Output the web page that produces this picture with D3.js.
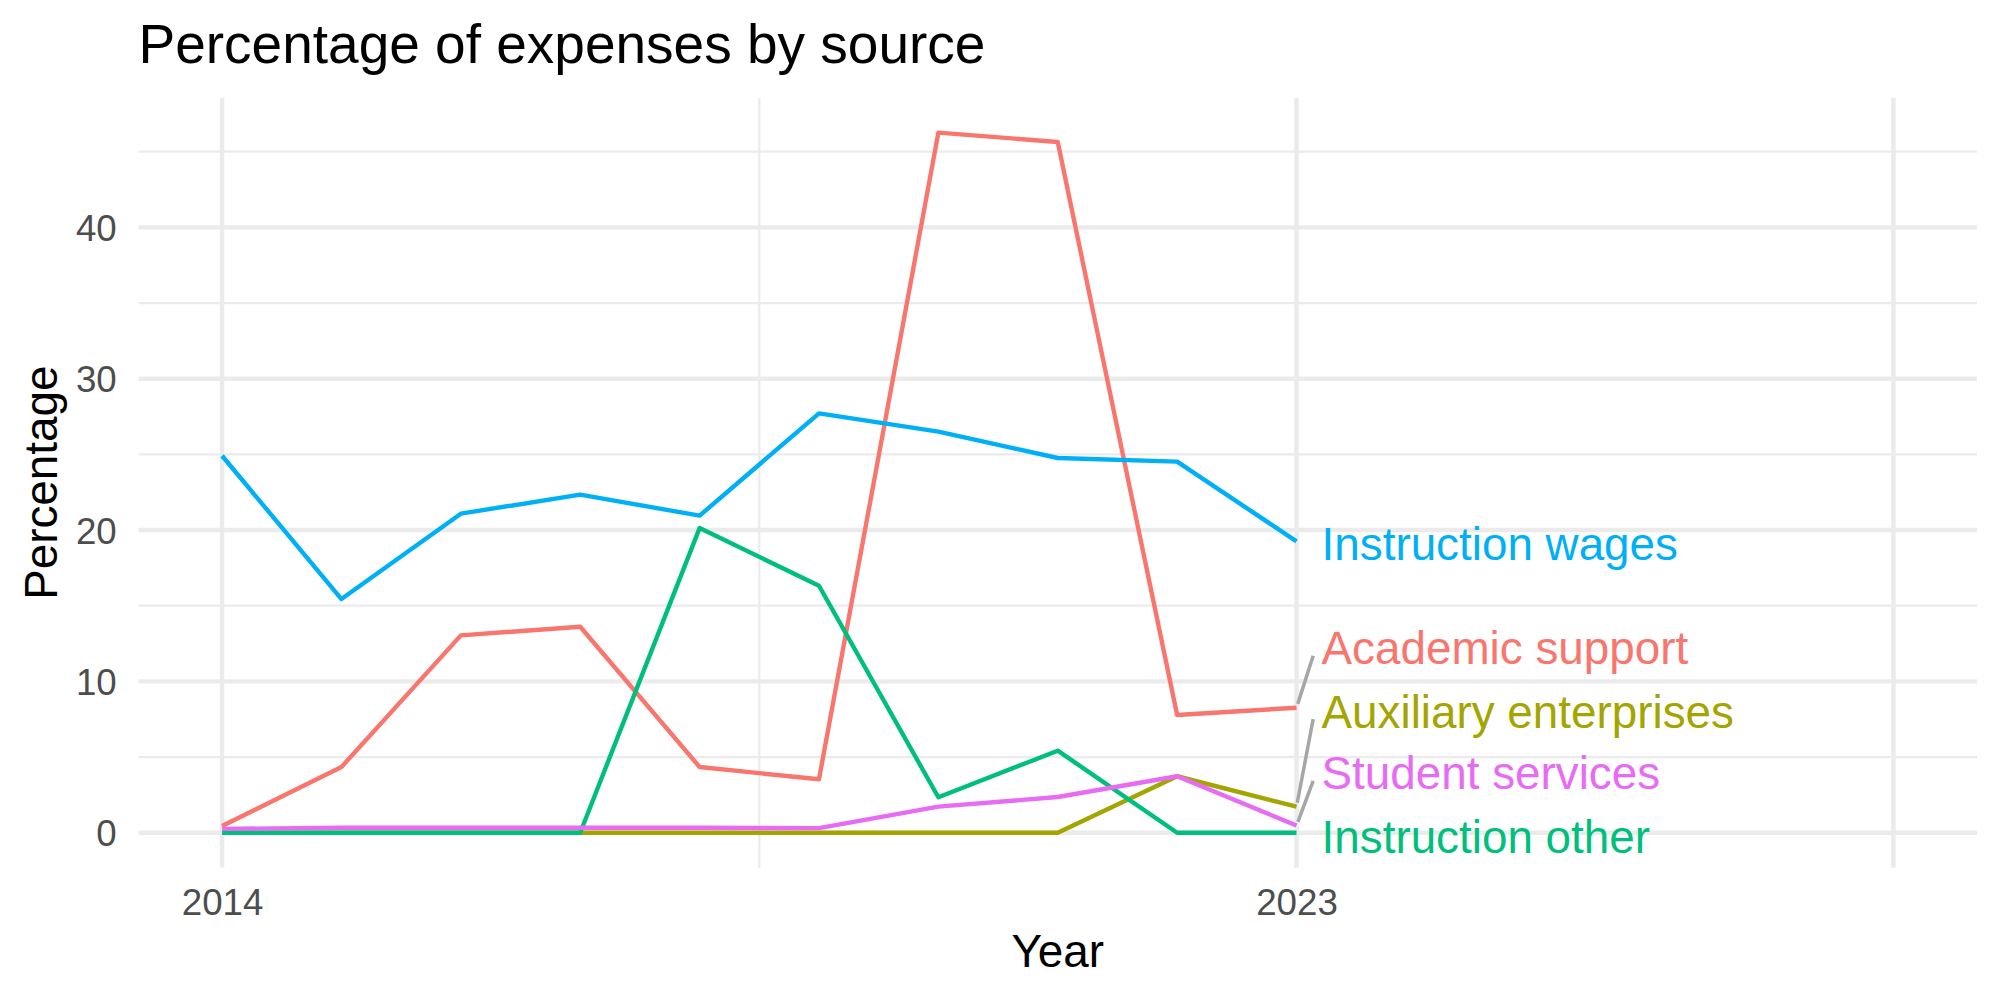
<!DOCTYPE html>
<html>
<head>
<meta charset="utf-8">
<script src="https://cdn.jsdelivr.net/npm/d3@7"></script>
<style>
  html, body { margin: 0; padding: 0; background: #fff; }
  svg { display: block; font-family: "Liberation Sans", Arial, Helvetica, sans-serif; }
</style>
</head>
<body>
<svg id="chart"></svg>
<script>
// Data
const years = [2014, 2015, 2016, 2017, 2018, 2019, 2020, 2021, 2022, 2023];
const sources = ["Academic support", "Auxiliary enterprises", "Instruction other", "Instruction wages", "Student services"];
const academicSupport = [0.44, 4.34, 13.04, 13.61, 4.34, 3.53, 46.26, 45.64, 7.78, 8.26];
const auxiliaryEnterprises = [0, 0, 0, 0, 0, 0, 0, 0, 3.73, 1.72];
const instructionOther = [0, 0, 0, 0, 20.13, 16.32, 2.34, 5.42, 0, 0];
const instructionWages = [24.91, 15.44, 21.08, 22.34, 20.95, 27.71, 26.5, 24.76, 24.52, 19.25];
const studentServices = [0.25, 0.33, 0.33, 0.33, 0.33, 0.3, 1.72, 2.36, 3.73, 0.47];
const seriesValues = [academicSupport, auxiliaryEnterprises, instructionOther, instructionWages, studentServices];
const colors = ["#F8766D", "#A3A500", "#00BF7D", "#00B0F6", "#E76BF3"];

// repelled label positions (data units) at the right end
const labelYear = 2023.21;
const labelValues = [12.22, 8.03, -0.26, 19.12, 3.95];
const showSegment = [true, true, false, false, true];

// axis breaks
const xBreaks = [2014, 2023, 2028];
const xBreakLabels = ["2014", "2023", ""];
const xMinorBreaks = [2018.5];
const yBreaks = [0, 10, 20, 30, 40];
const yMinorBreaks = [5, 15, 25, 35, 45];

// Set dimensions
const width = 2000;
const height = 1000;
const margin = { top: 97.7, right: 23, bottom: 132.3, left: 138.5 };

const svg = d3.select("#chart")
    .attr("width", width)
    .attr("height", height)
    .attr("viewBox", [0, 0, width, height]);

// Set scales
const x = d3.scaleLinear()
    .domain([2013.3, 2028.7])
    .range([margin.left, width - margin.right]);

const y = d3.scaleLinear()
    .domain([-2.313, 48.57])
    .range([height - margin.bottom, margin.top]);

// Grid lines
const grid = svg.append("g").attr("stroke", "#EBEBEB").attr("fill", "none");

grid.selectAll(".ymin").data(yMinorBreaks).join("line")
    .attr("x1", margin.left).attr("x2", width - margin.right)
    .attr("y1", d => y(d)).attr("y2", d => y(d))
    .attr("stroke-width", 2.2);

grid.selectAll(".xmin").data(xMinorBreaks).join("line")
    .attr("x1", d => x(d)).attr("x2", d => x(d))
    .attr("y1", margin.top).attr("y2", height - margin.bottom)
    .attr("stroke-width", 2.2);

grid.selectAll(".ymaj").data(yBreaks).join("line")
    .attr("x1", margin.left).attr("x2", width - margin.right)
    .attr("y1", d => y(d)).attr("y2", d => y(d))
    .attr("stroke-width", 4.4);

grid.selectAll(".xmaj").data(xBreaks).join("line")
    .attr("x1", d => x(d)).attr("x2", d => x(d))
    .attr("y1", margin.top).attr("y2", height - margin.bottom)
    .attr("stroke-width", 4.4);

// Draw lines
const line = d3.line()
    .x((d, i) => x(years[i]))
    .y(d => y(d));

svg.append("g")
    .attr("fill", "none")
    .attr("stroke-width", 4.4)
    .attr("stroke-linejoin", "round")
    .selectAll("path")
    .data(seriesValues)
    .join("path")
    .attr("stroke", (d, i) => colors[i])
    .attr("d", line);

// Label segments
const lastYear = years[years.length - 1];
seriesValues.forEach((vals, i) => {
    if (!showSegment[i]) return;
    const x0 = x(lastYear), y0 = y(vals[vals.length - 1]);
    const x1 = x(labelYear) - 8.4, y1 = y(labelValues[i]) + 8;
    const len = Math.hypot(x1 - x0, y1 - y0);
    const s = 4 / len;
    svg.append("line")
        .attr("x1", x0 + (x1 - x0) * s)
        .attr("y1", y0 + (y1 - y0) * s)
        .attr("x2", x1)
        .attr("y2", y1)
        .attr("stroke", "#A6A6A6")
        .attr("stroke-width", 3.5);
});

// Labels
svg.append("g")
    .selectAll("text")
    .data(sources)
    .join("text")
    .attr("x", x(labelYear))
    .attr("y", (d, i) => y(labelValues[i]) + 16.4)
    .attr("fill", (d, i) => colors[i])
    .style("font-size", "45.8px")
    .text(d => d);

// Draw X-axis
const xAxis = svg.append("g")
    .attr("transform", `translate(0,${height - margin.bottom})`)
    .call(d3.axisBottom(x).tickValues(xBreaks).tickFormat((d, i) => xBreakLabels[i]).tickSize(0).tickPadding(21.3));
xAxis.select(".domain").remove();
xAxis.selectAll("text").attr("fill", "#4D4D4D").style("font-size", "36.7px").attr("font-family", null);

// Draw Y-axis
const yAxis = svg.append("g")
    .attr("transform", `translate(${margin.left},0)`)
    .call(d3.axisLeft(y).tickValues(yBreaks).tickSize(0).tickPadding(21.8));
yAxis.select(".domain").remove();
yAxis.selectAll("text").attr("fill", "#4D4D4D").attr("dy", "0.36em").style("font-size", "36.7px").attr("font-family", null);

// Axis titles
svg.append("text")
    .attr("x", (margin.left + width - margin.right) / 2)
    .attr("y", 967.3)
    .attr("text-anchor", "middle")
    .style("font-size", "45.8px")
    .text("Year");

svg.append("text")
    .attr("transform", `translate(57.3,${(margin.top + height - margin.bottom) / 2}) rotate(-90)`)
    .attr("text-anchor", "middle")
    .style("font-size", "45.8px")
    .text("Percentage");

// Title
svg.append("text")
    .attr("x", margin.left)
    .attr("y", 62.7)
    .style("font-size", "55px")
    .text("Percentage of expenses by source");
</script>
</body>
</html>
